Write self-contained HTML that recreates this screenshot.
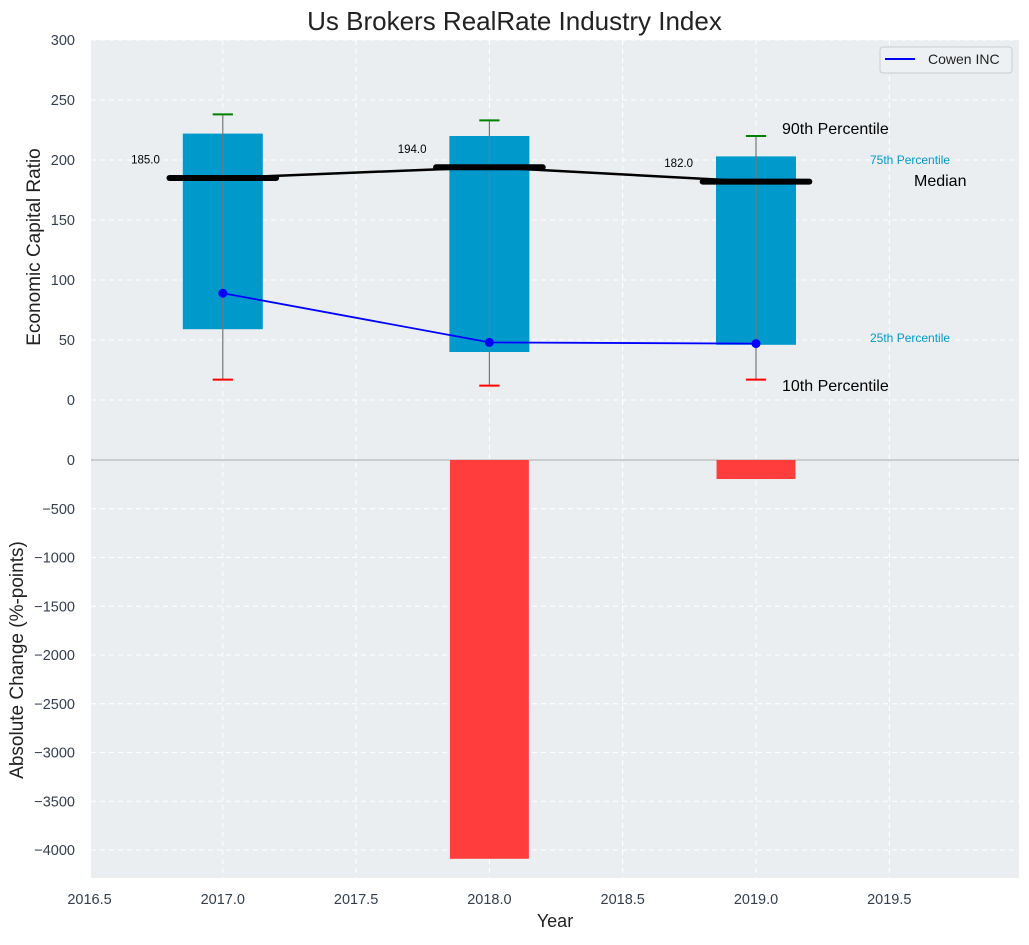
<!DOCTYPE html>
<html><head><meta charset="utf-8"><style>
body{margin:0;background:#fff;font-family:"Liberation Sans",sans-serif}
svg text{font-family:"Liberation Sans",sans-serif}
</style></head><body>
<svg id="c" width="1029" height="940" xmlns="http://www.w3.org/2000/svg"></svg>
<script>
const years=[2017,2018,2019];
const p10=[17,12,17], p25=[59,40,46], med=[185,194,182], p75=[222,220,203], p90=[238,233,220];
const cowen=[89,48,47];
const change=[0,-4090,-195];
const xTicks=[2016.5,2017.0,2017.5,2018.0,2018.5,2019.0,2019.5];
const yTopTicks=[0,50,100,150,200,250,300];
const yBotTicks=[0,-500,-1000,-1500,-2000,-2500,-3000,-3500,-4000];
const NS="http://www.w3.org/2000/svg", S=document.getElementById('c');
const L=91,R=1019;
const X=v=>89.5+(v-2016.5)*266.6;
const Y1=v=>400-1.2*v;
function Yb(v){return 460-v*0.0975;}
function el(t,a,name,txt){const e=document.createElementNS(NS,t);for(const k in a)e.setAttribute(k,a[k]);


if(txt!==undefined)e.textContent=txt;S.appendChild(e);return e;}
el('rect',{x:L,y:40,width:R-L,height:420,fill:'#eaeef0'},'top-plot-area');
el('rect',{x:L,y:460,width:R-L,height:418,fill:'#eaeef0'},'bottom-plot-area');
xTicks.forEach(t=>{el('line',{x1:X(t),x2:X(t),y1:40,y2:878,stroke:'#fff','stroke-dasharray':'5,4','stroke-width':1},'x-grid');
el('text',{x:X(t),y:904,'text-anchor':'middle','font-size':14.5,fill:'#333e4e'},'x-tick-label',t.toFixed(1));});
yTopTicks.forEach(t=>{el('line',{x1:L,x2:R,y1:Y1(t),y2:Y1(t),stroke:'#fff','stroke-dasharray':'5,4'},'y-grid-top');
el('text',{x:75,y:Y1(t)+5,'text-anchor':'end','font-size':14.5,fill:'#333e4e'},'y-tick-label-top',t);});
yBotTicks.forEach(t=>{el('line',{x1:L,x2:R,y1:Yb(t),y2:Yb(t),stroke:'#fff','stroke-dasharray':'5,4'},'y-grid-bottom');
el('text',{x:75,y:Yb(t)+5,'text-anchor':'end','font-size':14.5,fill:'#333e4e'},'y-tick-label-bottom',t===0?'0':'\u2212'+(-t));});
el('line',{x1:L,x2:R,y1:460,y2:460,stroke:'#aaa'},'divider');
const bw=0.3;
years.forEach((y,i)=>{
el('rect',{x:X(y-bw/2),y:Y1(p75[i]),width:X(y+bw/2)-X(y-bw/2),height:Y1(p25[i])-Y1(p75[i]),fill:'#0099cc'},'iqr-box-'+y);
el('line',{x1:X(y),x2:X(y),y1:Y1(p90[i]),y2:Y1(p10[i]),stroke:'#777','stroke-width':1.2},'whisker-'+y);
el('line',{x1:X(y-0.038),x2:X(y+0.038),y1:Y1(p90[i]),y2:Y1(p90[i]),stroke:'green','stroke-width':2},'cap-90-'+y);
el('line',{x1:X(y-0.038),x2:X(y+0.038),y1:Y1(p10[i]),y2:Y1(p10[i]),stroke:'red','stroke-width':2},'cap-10-'+y);
el('line',{x1:X(y-0.2),x2:X(y+0.2),y1:Y1(med[i]),y2:Y1(med[i]),stroke:'#000','stroke-width':6,'stroke-linecap':'round'},'median-'+y);
el('text',{x:X(y-0.29),y:Y1(med[i]+12),'text-anchor':'middle','font-size':11.5,fill:'#000'},'median-label-'+y,med[i].toFixed(1));
if(change[i]!==0)el('rect',{x:X(y-0.148),y:460,width:X(y+0.148)-X(y-0.148),height:-change[i]*0.0975,fill:'#ff3d3d'},'change-bar-'+y);
});
el('polyline',{points:years.map((y,i)=>X(y)+','+Y1(med[i])).join(' '),fill:'none',stroke:'#000','stroke-width':2.5},'median-line');
el('polyline',{points:years.map((y,i)=>X(y)+','+Y1(cowen[i])).join(' '),fill:'none',stroke:'blue','stroke-width':1.8},'cowen-line');
years.forEach((y,i)=>el('circle',{cx:X(y),cy:Y1(cowen[i]),r:4.5,fill:'blue'},'cowen-point-'+y));
el('text',{x:782,y:134,'font-size':16,fill:'#000'},'label-90th','90th Percentile');
el('text',{x:870,y:164,'font-size':12,fill:'#0099cc'},'label-75th','75th Percentile');
el('text',{x:914,y:186,'font-size':16,fill:'#000'},'label-median','Median');
el('text',{x:870,y:342,'font-size':12,fill:'#0099cc'},'label-25th','25th Percentile');
el('text',{x:782,y:391,'font-size':16,fill:'#000'},'label-10th','10th Percentile');
el('rect',{x:880,y:47,width:132,height:26,rx:3,fill:'#eef1f3',stroke:'#ccc'},'legend');
el('line',{x1:885,x2:915,y1:59,y2:59,stroke:'blue','stroke-width':2},'legend-line');
el('text',{x:928,y:64,'font-size':14,fill:'#222'},'legend-entry','Cowen INC');
el('text',{x:514.5,y:30,'text-anchor':'middle','font-size':26,fill:'#222'},'chart-title','Us Brokers RealRate Industry Index');
el('text',{x:555,y:927,'text-anchor':'middle','font-size':18,fill:'#222'},'x-axis-title','Year');
el('text',{x:0,y:0,'text-anchor':'middle','font-size':19,fill:'#222',transform:'translate(40,247) rotate(-90)'},'y-axis-title-top','Economic Capital Ratio');
el('text',{x:0,y:0,'text-anchor':'middle','font-size':19,fill:'#222',transform:'translate(23,660) rotate(-90)'},'y-axis-title-bottom','Absolute Change (%-points)');
</script>
</body></html>
